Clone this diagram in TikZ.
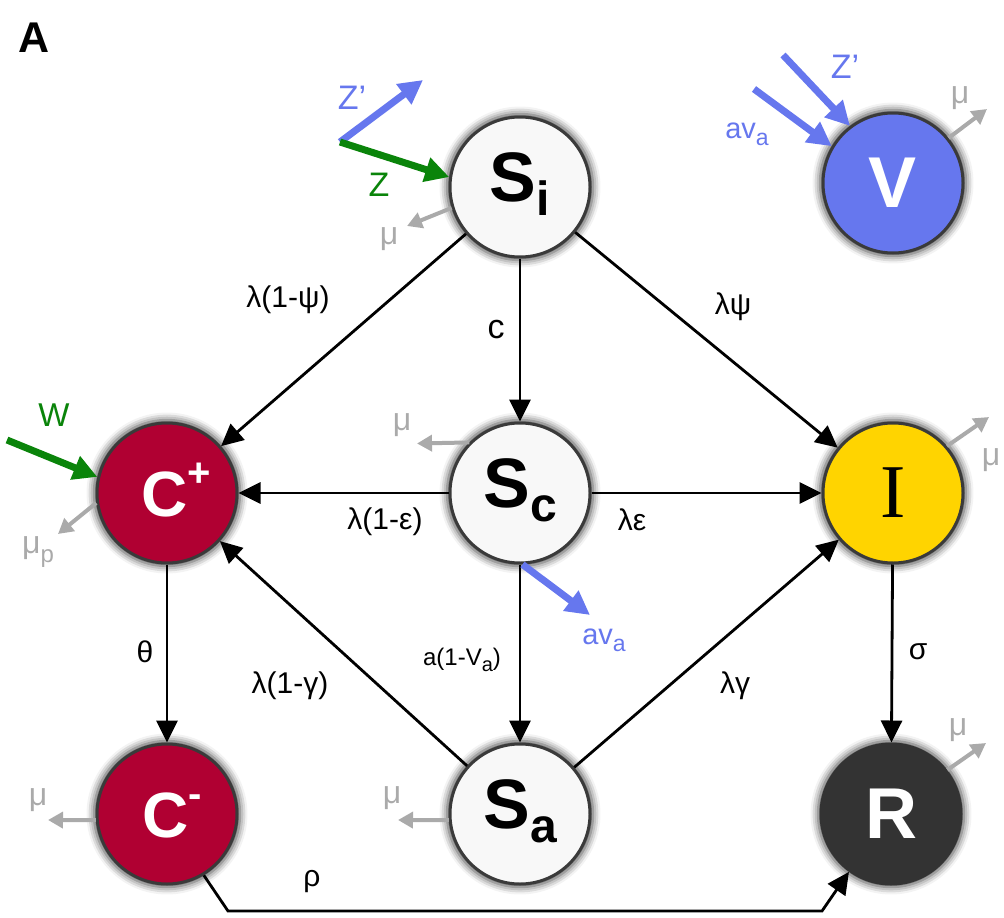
\documentclass[tikz,border=0pt]{standalone}
\usepackage{fontspec}
\setmainfont{Liberation Sans}
\newfontfamily\serifletter{Liberation Serif}
\usetikzlibrary{arrows.meta,shadows.blur}

\definecolor{crimson}{HTML}{B00032}
\definecolor{gold}{HTML}{FFD400}
\definecolor{vblue}{HTML}{6677EE}
\definecolor{darkfill}{HTML}{333333}
\definecolor{lightfill}{HTML}{F8F8F8}
\definecolor{deathgray}{HTML}{AAAAAA}
\definecolor{ingreen}{HTML}{0A840A}
\definecolor{ringgray}{HTML}{3A3A3A}

% compartment label with a lowered subscript
\newcommand\compsub[2]{\fontsize{70}{70}\selectfont\bfseries #1\raisebox{-14pt}{\fontsize{48}{48}\selectfont #2}}
% compartment label with a raised superscript
\newcommand\compsup[3]{\hspace*{#3}\fontsize{64}{64}\selectfont\bfseries C\raisebox{30pt}{\fontsize{40}{40}\selectfont #1}#2}
% a v subscript a
\newcommand\avrate{av\raisebox{-7pt}{\fontsize{23}{23}\selectfont a}}

\tikzset{
  state/.style={circle, minimum size=140pt, inner sep=0pt, line width=3pt, draw=ringgray,
    blur shadow={shadow xshift=0pt, shadow yshift=0pt, shadow blur radius=7pt, shadow opacity=75, shadow scale=1.045}},
  ssub/.style={state, fill=lightfill, text=black, text height=50pt, text depth=22pt},
  flow/.style={line width=2.8pt, -{Triangle[length=22pt,width=21pt]}},
  death/.style={line width=4pt, draw=deathgray, -{Triangle[length=15pt,width=16pt]}},
  inblue/.style={line width=7pt, draw=vblue, -{Triangle[length=24pt,width=24pt]}},
  ingreenarr/.style={line width=7pt, draw=ingreen, -{Triangle[length=24pt,width=24pt]}},
  lab/.style={inner sep=0pt, font=\fontsize{30}{30}\selectfont},
  mulab/.style={inner sep=0pt, text=deathgray, font=\fontsize{32}{32}\selectfont},
  bluelab/.style={inner sep=0pt, text=vblue, font=\fontsize{29}{29}\selectfont},
}

\begin{document}
\begin{tikzpicture}[x=1pt,y=-1pt]
\useasboundingbox (0,0) rectangle (1004,918);

% panel letter
\node[inner sep=0pt, font=\fontsize{43}{43}\selectfont\bfseries] (panelA) at (34,38) {A};

% compartments
\node[ssub] (Si) at (520,187) {\compsub{S}{i}};
\node[ssub] (Sc) at (520,493) {\compsub{S}{c}};
\node[ssub] (Sa) at (520,814) {\compsub{S}{a}};
\node[state, fill=crimson, text=white, text height=46pt, text depth=0pt] (Cp) at (167,493) {\compsup{+}{}{18pt}};
\node[state, fill=crimson, text=white, text height=46pt, text depth=0pt] (Cm) at (167,814) {\compsup{-}{}{10pt}};
\node[state, fill=gold, text=black, font=\serifletter\fontsize{76}{76}\selectfont] (I) at (893,493) {I};
\node[state, fill=darkfill, draw=darkfill, text=white, font=\fontsize{72}{72}\selectfont\bfseries] (R) at (891,814) {R};
\node[state, fill=vblue, text=white, font=\fontsize{72}{72}\selectfont\bfseries] (V) at (893,183) {V};

% transitions
\draw[flow] (Si) -- (Cp);
\draw[flow] (Si) -- (Sc);
\draw[flow] (Si) -- (I);
\draw[flow] (Sc) -- (Cp);
\draw[flow] (Sc) -- (I);
\draw[flow] (Sc) -- (Sa);
\draw[flow] (Sa) -- (Cp);
\draw[flow] (Sa) -- (I);
\draw[flow] (Cp) -- (Cm);
\draw[flow] (I) -- (R);
\coordinate (rhoA) at (228,911);
\coordinate (rhoB) at (822,911);
\draw[flow] (Cm.-59) -- (rhoA) -- (rhoB) -- (R.-126);

% transition rates
\node[lab] (rSiCp) at (288,300) {λ(1-ψ)};
\node[lab, font=\fontsize{34}{34}\selectfont] (rSiSc) at (496,330) {c};
\node[lab] (rSiI) at (733,307) {λψ};
\node[lab] (rScCp) at (385,522) {λ(1-ε)};
\node[lab] (rScI) at (632,520) {λε};
\node[lab, font=\fontsize{24}{24}\selectfont] (rScSa) at (462,660) {a(1-V\raisebox{-6pt}{\fontsize{20}{20}\selectfont a})};
\node[lab] (rSaCp) at (290,686) {λ(1-γ)};
\node[lab] (rSaI) at (735,686) {λγ};
\node[lab] (rCpCm) at (145,652) {θ};
\node[lab] (rIR) at (918,652) {σ};
\node[lab] (rCmR) at (312,882) {ρ};

% mortality outflows
\coordinate (dSi) at (407,226);
\draw[death] (Si.197) -- (dSi);
\node[mulab] (mSi) at (389,239) {μ};
\coordinate (dV) at (987,109);
\draw[death] (V.39) -- (dV);
\node[mulab] (mV) at (960,98) {μ};
\coordinate (dCp) at (58,534);
\draw[death] (Cp.188) -- (dCp);
\node[mulab] (mCp) at (38,552) {μ\raisebox{-9pt}{\fontsize{24}{24}\selectfont p}};
\coordinate (dSc) at (417,443.5);
\draw[death] (Sc.135) -- (dSc);
\node[mulab] (mSc) at (402,425) {μ};
\coordinate (dI) at (989,417);
\draw[death] (I.41) -- (dI);
\node[mulab] (mI) at (991,460) {μ};
\coordinate (dCm) at (48,820);
\draw[death] (Cm.185) -- (dCm);
\node[mulab] (mCm) at (38,800) {μ};
\coordinate (dSa) at (398,820);
\draw[death] (Sa.185) -- (dSa);
\node[mulab] (mSa) at (392,798) {μ};
\coordinate (dR) at (986,743);
\draw[death] (R.38) -- (dR);
\node[mulab] (mR) at (958,730) {μ};

% external inflows and vaccination
\coordinate (zBase) at (340,142);
\coordinate (zqTip) at (423,80);
\draw[inblue] (zBase) -- (zqTip);
\node[bluelab, font=\fontsize{34}{34}\selectfont] (zqLab) at (352,98) {Z\symbol{39}};
\draw[ingreenarr] (zBase) -- (Si.172);
\node[inner sep=0pt, text=ingreen, font=\fontsize{34}{34}\selectfont] (zLab) at (379,185) {Z};

\coordinate (vzStart) at (783,55);
\draw[inblue] (vzStart) -- (V.127);
\node[bluelab, font=\fontsize{34}{34}\selectfont] (vzLab) at (845,67) {Z\symbol{39}};
\coordinate (vaStart) at (754,89);
\draw[inblue] (vaStart) -- (V.149);
\node[bluelab] (vaLab) at (747,134) {\avrate};

\coordinate (scvTip) at (590,615);
\draw[inblue] (Sc.-88) -- (scvTip);
\node[bluelab] (scvLab) at (604,640) {\avrate};

\coordinate (wStart) at (7,440);
\draw[ingreenarr] (wStart) -- (Cp.167);
\node[inner sep=0pt, text=ingreen, font=\fontsize{33}{33}\selectfont] (wLab) at (54,415) {W};
\end{tikzpicture}
\end{document}
